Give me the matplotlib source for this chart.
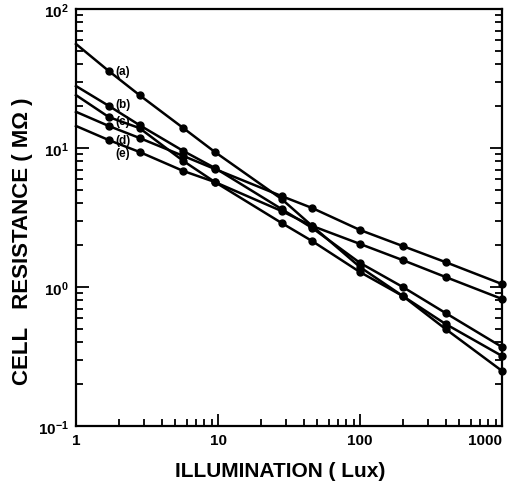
"""
Cell resistance versus illumination for five photocells (a)-(e).
"""

import math

import matplotlib
matplotlib.use("Agg")
import matplotlib.pyplot as plt
from matplotlib.ticker import LogLocator, FixedLocator, FuncFormatter, NullFormatter

ILLUMINATION = [1, 1.7, 2.8, 5.7, 9.5, 28, 46, 100, 200, 400, 1000]

CELL_A = [56.0, 35.8, 24.0, 13.9, 9.36, 4.30, 2.75, 1.39, 0.861, 0.499, 0.249]
CELL_B = [27.9, 20.1, 14.6, 9.51, 7.18, 3.64, 2.66, 1.49, 1.00, 0.65, 0.370]
CELL_C = [24.0, 16.7, 13.9, 8.06, 5.69, 2.89, 2.14, 1.28, 0.861, 0.542, 0.319]
CELL_D = [18.2, 14.4, 11.8, 8.76, 7.06, 4.51, 3.70, 2.57, 1.97, 1.51, 1.05]
CELL_E = [14.4, 11.4, 9.36, 6.83, 5.69, 3.52, 2.75, 2.04, 1.56, 1.18, 0.820]

CELL_NAMES = ["(a)", "(b)", "(c)", "(d)", "(e)"]
# label offsets (points) from each curve's second data point
LABEL_OFFSETS = [(5, 0), (5, 1.5), (5, -3), (5, -10), (5, -9)]

XTICKS = [1, 10, 100, 1000]
XTICK_LABELS = ["1", "10", "100", "1000"]


def create_chart() -> None:
    plt.rcParams["font.family"] = ["Liberation Sans", "DejaVu Sans"]
    plt.rcParams["mathtext.fontset"] = "custom"
    plt.rcParams["mathtext.bf"] = "Liberation Sans:bold"
    plt.rcParams["mathtext.rm"] = "Liberation Sans:bold"

    fig = plt.figure(figsize=(5.15, 4.89), dpi=100)
    ax = fig.add_axes([0.1476, 0.1268, 0.8272, 0.8528])

    cells = [CELL_A, CELL_B, CELL_C, CELL_D, CELL_E]
    for values, name, offset in zip(cells, CELL_NAMES, LABEL_OFFSETS):
        ax.plot(ILLUMINATION, values, color="black", lw=1.8,
                marker="o", ms=5, markevery=slice(1, None), clip_on=False,
                zorder=3)
        ax.annotate(name, (ILLUMINATION[1], values[1]), xytext=offset,
                    textcoords="offset points", ha="left", va="center",
                    fontsize=8.5, fontweight="bold")

    ax.set_xscale("log")
    ax.set_yscale("log")
    ax.set_xlim(1, 1000)
    ax.set_ylim(0.1, 100)

    ax.xaxis.set_major_locator(FixedLocator(XTICKS))
    ax.set_xticklabels(XTICK_LABELS)
    ax.xaxis.set_minor_locator(LogLocator(base=10, subs=range(2, 10)))
    ax.xaxis.set_minor_formatter(NullFormatter())

    ax.yaxis.set_major_locator(LogLocator(base=10))
    ax.yaxis.set_minor_locator(LogLocator(base=10, subs=range(2, 10)))
    ax.yaxis.set_minor_formatter(NullFormatter())
    ax.yaxis.set_major_formatter(
        FuncFormatter(lambda v, pos: r"$\mathbf{10^{%d}}$" % round(math.log10(v)))
    )

    ax.tick_params(which="both", direction="in", left=True, bottom=True,
                   right=True, top=False, width=1.3)
    ax.tick_params(which="major", length=9, labelsize=11, pad=5)
    ax.tick_params(which="minor", length=5)
    for label in ax.get_xticklabels():
        label.set_fontweight("bold")
    ax.get_xticklabels()[-1].set_horizontalalignment("right")

    for spine in ax.spines.values():
        spine.set_linewidth(1.6)

    ax.set_xlabel("ILLUMINATION ( Lux)", fontsize=15, fontweight="bold")
    ax.xaxis.set_label_coords(0.479, -0.085)
    ax.set_ylabel("CELL   RESISTANCE ( M\u03a9 )", fontsize=16,
                  fontweight="bold")
    ax.yaxis.set_label_coords(-0.102, 0.445)

    fig.savefig("out.png", dpi=100)


if __name__ == "__main__":
    create_chart()
